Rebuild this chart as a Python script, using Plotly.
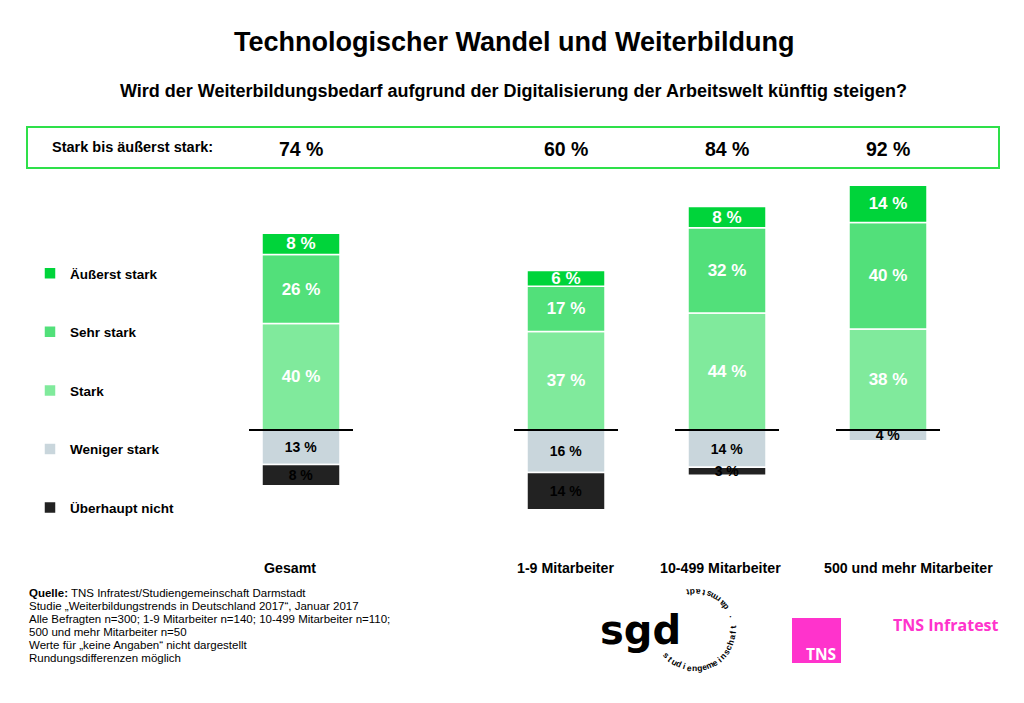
import math
import plotly.graph_objects as go

# ---------------- data ----------------
categories = ["Gesamt", "1-9 Mitarbeiter", "10-499 Mitarbeiter", "500 und mehr Mitarbeiter"]
aeusserst_stark = [8, 6, 8, 14]
sehr_stark = [26, 17, 32, 40]
stark = [40, 37, 44, 38]
weniger_stark = [13, 16, 14, 4]
ueberhaupt_nicht = [8, 14, 3, None]

series_names = ["Äußerst stark", "Sehr stark", "Stark", "Weniger stark", "Überhaupt nicht"]
title = "Technologischer Wandel und Weiterbildung"
subtitle = "Wird der Weiterbildungsbedarf aufgrund der Digitalisierung der Arbeitswelt künftig steigen?"
summary_label = "Stark bis äußerst stark:"
footnote_lines = [
    "<b>Quelle:</b> TNS Infratest/Studiengemeinschaft Darmstadt",
    "Studie „Weiterbildungstrends in Deutschland 2017“, Januar 2017",
    "Alle Befragten n=300; 1-9 Mitarbeiter n=140; 10-499 Mitarbeiter n=110;",
    "500 und mehr Mitarbeiter n=50",
    "Werte für „keine Angaben“ nicht dargestellt",
    "Rundungsdifferenzen möglich",
]

# ---------------- layout helpers ----------------
W, H = 1024, 703
FONT = "Liberation Sans"
x_pos = [0, 1.646, 2.646, 3.646]          # horizontal slot of each category
label_shift = [-11, -1, -7, 20]            # pixel nudges of category labels
bar_w = 0.4845


def px(x):
    return x / W


def py(y):
    return 1 - y / H


def fmt(vals):
    return [("" if v in (None, 0) else f"{v} %") for v in vals]


def neg(vals):
    return [(None if v is None else -v) for v in vals]


colors = {
    "Äußerst stark": "#00D43A",
    "Sehr stark": "#52E07A",
    "Stark": "#80EA9C",
    "Weniger stark": "#C9D6DC",
    "Überhaupt nicht": "#222222",
}

fig = go.Figure()

stack = [
    ("Stark", stark, "white", 17, 3),
    ("Sehr stark", sehr_stark, "white", 17, 2),
    ("Äußerst stark", aeusserst_stark, "white", 17, 1),
    ("Weniger stark", neg(weniger_stark), "black", 14, 4),
    ("Überhaupt nicht", neg(ueberhaupt_nicht), "#000000", 14, 5),
]
raw = {"Stark": stark, "Sehr stark": sehr_stark, "Äußerst stark": aeusserst_stark,
       "Weniger stark": weniger_stark, "Überhaupt nicht": ueberhaupt_nicht}

for name, vals, tcol, tsize, rank in stack:
    fig.add_trace(go.Bar(
        x=x_pos, y=vals, name=name, width=bar_w,
        marker=dict(color=colors[name], line=dict(color="white", width=1.5)),
        text=fmt(raw[name]), textposition="inside", insidetextanchor="middle",
        constraintext="none", cliponaxis=False,
        textfont=dict(color=tcol, size=tsize, family=FONT, weight="bold"),
        legendrank=rank, legendgroup=name, hoverinfo="skip",
    ))

totals = [a + b + c for a, b, c in zip(aeusserst_stark, sehr_stark, stark)]

annotations = [
    dict(text=title, x=px(514), y=py(42), font=dict(size=27, weight="bold")),
    dict(text=subtitle, x=px(513), y=py(91), font=dict(size=18, weight="bold")),
    dict(text=summary_label, x=px(50), y=py(147), xanchor="left", font=dict(size=14.5, weight="bold")),
]
for xp, t in zip(x_pos, totals):
    annotations.append(dict(text=f"{t} %", x=xp, xref="x", y=py(149), font=dict(size=19.5, weight="bold")))
for xp, c, s in zip(x_pos, categories, label_shift):
    annotations.append(dict(text=c, x=xp, xref="x", xshift=s, y=py(568), font=dict(size=14.2, weight="bold")))

for i, line in enumerate(footnote_lines):
    annotations.append(dict(text=line, x=px(27), y=py(593 + 13 * i), xanchor="left",
                            font=dict(size=11.5, weight="normal")))

# sgd logo
annotations.append(dict(text="sgd", x=px(640), y=py(630), font=dict(size=40, weight="bold", family="DejaVu Sans")))
arc_text = "studiengemeinschaft · darmstadt"
cx, cy, r = 695, 630, 38
start, step = -139, 8.0
for i, ch in enumerate(arc_text):
    th = math.radians(start + i * step)
    xx = cx + r * math.cos(th)
    yy = cy - r * math.sin(th)
    ang = math.degrees(math.atan2(-math.cos(th), -math.sin(th)))
    annotations.append(dict(text=ch, x=px(xx), y=py(yy), textangle=ang,
                            font=dict(size=8.5, weight="bold")))

# TNS logo
annotations.append(dict(text="TNS", x=px(804), y=py(654), xanchor="left",
                        font=dict(size=15.5, weight="bold", color="white", family="Open Sans")))
annotations.append(dict(text="TNS Infratest", x=px(891), y=py(625), xanchor="left",
                        font=dict(size=16, weight="bold", color="#FF33CC", family="Open Sans")))

for a in annotations:
    a.setdefault("xref", "paper")
    a.setdefault("yanchor", "middle")
    a.setdefault("xanchor", "center")
    a["yref"] = "paper"
    a["showarrow"] = False

shapes = [
    dict(type="rect", xref="paper", yref="paper", x0=px(27), x1=px(999), y0=py(127), y1=py(168),
         line=dict(color="#2EE04A", width=2), fillcolor="rgba(0,0,0,0)"),
    dict(type="rect", xref="paper", yref="paper", x0=px(792), x1=px(841), y0=py(618), y1=py(663),
         line=dict(width=0), fillcolor="#FF33CC", layer="below"),
]
for xp in x_pos:
    shapes.append(dict(type="line", xref="x", yref="y", x0=xp - 0.323, x1=xp + 0.323, y0=0, y1=0,
                       line=dict(color="black", width=2)))

k = 2.66
fig.update_layout(
    width=W, height=H,
    margin=dict(l=0, r=0, t=0, b=0),
    paper_bgcolor="white", plot_bgcolor="white",
    font=dict(family=FONT, color="black", size=13, weight="bold"),
    barmode="relative",
    xaxis=dict(visible=False, range=[-301 / 161, (W - 301) / 161], fixedrange=True),
    yaxis=dict(visible=False, range=[-(H - 430) / k, 430 / k], fixedrange=True),
    showlegend=True,
    legend=dict(x=px(30), y=py(258), xanchor="left", yanchor="top", traceorder="grouped",
                tracegroupgap=38, bgcolor="rgba(0,0,0,0)",
                font=dict(size=13.5, family=FONT, weight="bold")),
    annotations=annotations,
    shapes=shapes,
)

fig.write_html("out.html", post_script="document.body.style.margin='0';",
               config={"displayModeBar": False})
